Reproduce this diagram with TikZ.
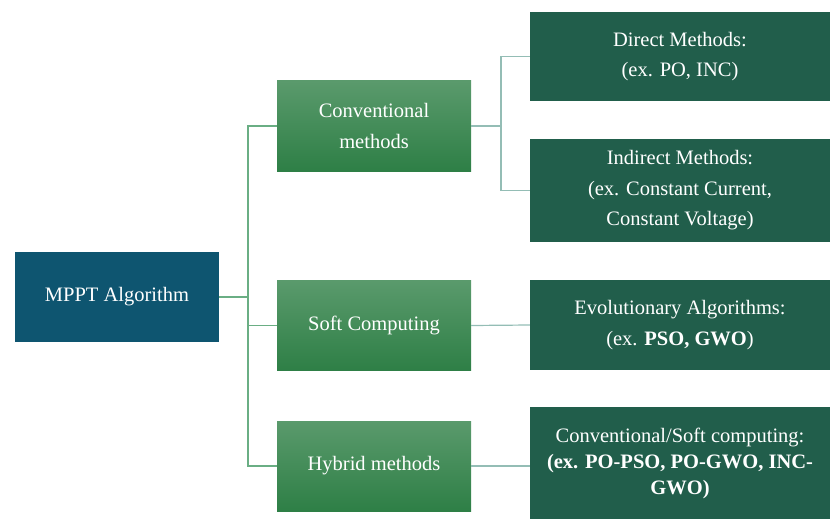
\documentclass[tikz,border=0pt]{standalone}
\usepackage{fontspec}
\setmainfont{Liberation Serif}
\usetikzlibrary{positioning}
\definecolor{rootblue}{HTML}{0E5570}
\definecolor{gtop}{HTML}{5A9A6C}
\definecolor{gbot}{HTML}{2E7F46}
\definecolor{leafgreen}{HTML}{215E4B}
\definecolor{lineL}{HTML}{6AAE84}
\definecolor{lineR}{HTML}{94BDB5}
\tikzset{
  box/.style={minimum width=#1, text=white, align=center, inner sep=0pt, font=\fontsize{20.5}{30.5}\selectfont},
  rootbox/.style={box=204pt, minimum height=90pt, fill=rootblue},
  midbox/.style={box=194pt, minimum height=90pt, top color=gtop, bottom color=gbot},
  leafbox/.style={box=300pt, fill=leafgreen},
  connL/.style={draw=lineL, line width=1.2pt},
  connR/.style={draw=lineR, line width=1.2pt},
}
\begin{document}
\begin{tikzpicture}[x=1pt,y=-1pt]
\useasboundingbox (0,0) rectangle (830,519);
\node[rootbox] (root) at (117,297) {MPPT Algorithm};
\node[midbox] (conv) at (374,126) {Conventional\\methods};
\node[midbox] (soft) at (374,325.5) {Soft Computing};
\node[midbox] (hyb) at (374,466) {Hybrid methods};
\node[leafbox, minimum height=89pt] (direct) at (680,56.5) {Direct Methods:\\(ex. PO, INC)};
\node[leafbox, minimum height=103pt] (indirect) at (680,190.5) {Indirect Methods:\\(ex. Constant Current,\\Constant Voltage)};
\node[leafbox, minimum height=90pt] (evo) at (680,325) {Evolutionary Algorithms:\\(ex. \textbf{PSO, GWO})};
\node[leafbox, minimum height=112pt, font=\fontsize{20.5}{26}\selectfont] (cs) at (680,463) {Conventional/Soft computing:\\\textbf{(ex. PO-PSO, PO-GWO, INC-}\\\textbf{GWO)}};
\coordinate (bL) at (248,297);
\coordinate (bR) at (501,126);
\draw[connL] (root.east) -- (bL);
\draw[connL] (conv.west) -| (bL) |- (hyb.west);
\draw[connL] (bL) |- (soft.west);
\draw[connR] (conv.east) -- (bR);
\draw[connR] (direct.west) -| (bR) |- (indirect.west);
\draw[connR] (soft.east) -- (evo.west);
\draw[connR] (hyb.east) -- (hyb.east -| cs.west);
\end{tikzpicture}
\end{document}
